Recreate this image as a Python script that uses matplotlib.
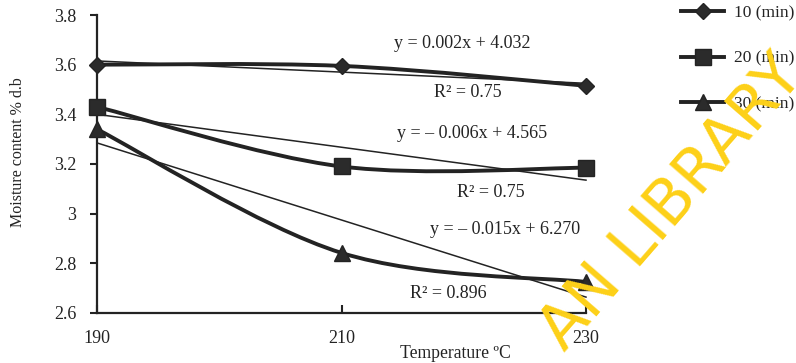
import matplotlib
matplotlib.use("Agg")
import matplotlib.pyplot as plt
from matplotlib.path import Path
from matplotlib.patches import PathPatch
from matplotlib.lines import Line2D

# DATOS
temperaturas = [190, 210, 230]
humedad_10 = [3.60, 3.595, 3.515]
humedad_20 = [3.43, 3.19, 3.185]
humedad_30 = [3.34, 2.842, 2.725]

# lineas de tendencia (valor en 190 y en 230)
tend_x = [190, 230]
tend_10 = [3.615, 3.525]
tend_20 = [3.40, 3.135]
tend_30 = [3.285, 2.664]

ecuaciones = ["y = 0.002x + 4.032", "y = \u2013 0.006x + 4.565", "y = \u2013 0.015x + 6.270"]
r2_textos = ["R\u00b2 = 0.75", "R\u00b2 = 0.75", "R\u00b2 = 0.896"]
etiquetas = ["10 (min)", "20 (min)", "30 (min)"]
yticks = [2.6, 2.8, 3.0, 3.2, 3.4, 3.6, 3.8]
ytick_labels = ["2.6", "2.8", "3", "3.2", "3.4", "3.6", "3.8"]
xticks = [190, 210, 230]

negro = "#232323"
plt.rcParams["font.family"] = ["Liberation Serif", "DejaVu Serif"]


def curva_suave(ax, xs, ys, lw):
    # curva suavizada tipo Excel (Bezier cubica tipo Catmull-Rom)
    pts = list(zip(xs, ys))
    verts = [pts[0]]
    codes = [Path.MOVETO]
    n = len(pts)
    for i in range(n - 1):
        p0 = pts[i - 1] if i > 0 else pts[i]
        p1 = pts[i]
        p2 = pts[i + 1]
        p3 = pts[i + 2] if i + 2 < n else pts[i + 1]
        c1 = (p1[0] + (p2[0] - p0[0]) / 6, p1[1] + (p2[1] - p0[1]) / 6)
        c2 = (p2[0] - (p3[0] - p1[0]) / 6, p2[1] - (p3[1] - p1[1]) / 6)
        verts += [c1, c2, p2]
        codes += [Path.CURVE4] * 3
    patch = PathPatch(Path(verts, codes), fc="none", ec=negro, lw=lw,
                      transform=ax.transData, clip_on=False, capstyle="round")
    ax.add_patch(patch)


fig = plt.figure(figsize=(7.96, 3.63), dpi=100)
ax = fig.add_axes([97 / 796, 1 - 313 / 363, (586 - 97) / 796, (313 - 15) / 363])

series = [(humedad_10, tend_10, "D", 8.5), (humedad_20, tend_20, "s", 12), (humedad_30, tend_30, "^", 12)]
for hum, tend, mk, ms in series:
    ax.plot(tend_x, tend, color=negro, lw=1.1, clip_on=False)
    curva_suave(ax, temperaturas, hum, 2.8)
    ax.plot(temperaturas, hum, ls="none", marker=mk, ms=ms, color="#2b2b2b",
            mec=negro, clip_on=False, zorder=5)

ax.set_xlim(190, 230)
ax.set_ylim(2.6, 3.8)
ax.set_xticks(xticks)
ax.set_yticks(yticks)
ax.set_yticklabels(ytick_labels)
for s in ["top", "right"]:
    ax.spines[s].set_visible(False)
for s in ["left", "bottom"]:
    ax.spines[s].set_linewidth(1.6)
    ax.spines[s].set_color(negro)
ax.tick_params(axis="y", direction="out", length=5, width=1.5, pad=10,
               labelsize=13, colors=negro)
ax.tick_params(axis="x", direction="in", length=6, width=1.5, pad=12,
               labelsize=13, colors=negro)

# textos de ecuaciones
pos_ec = [(219.86, 3.687), (220.67, 3.321), (223.37, 2.938)]
pos_r2 = [(220.35, 3.486), (222.23, 3.087), (218.71, 2.680)]
for t, (x, y) in zip(ecuaciones, pos_ec):
    ax.text(x, y, t, ha="center", va="center", fontsize=13, color=negro)
for t, (x, y) in zip(r2_textos, pos_r2):
    ax.text(x, y, t, ha="center", va="center", fontsize=13, color=negro)

fig.text(18 / 796, 1 - 152 / 363, "Moisture content % d.b", rotation=90,
         ha="center", va="center", fontsize=11.5, color=negro)
fig.text(455 / 796, 1 - 353 / 363, "Temperature \u00baC", ha="center",
         va="center", fontsize=12.7, color=negro)

# leyenda
handles = [Line2D([], [], color=negro, lw=2.8, marker=m, ms=s, mfc="#2b2b2b", mec=negro)
           for _, _, m, s in series]
fig.legend(handles, etiquetas, loc="upper left", bbox_to_anchor=(681 / 796, 1 - 5 / 363),
           frameon=False, fontsize=12.5, handlelength=2.5, handletextpad=0.55,
           labelspacing=1.7, borderpad=0, borderaxespad=0, labelcolor=negro)

# marca de agua
fig.text(672 / 796, 1 - 203 / 363, "AN LIBRARY", rotation=49, ha="center",
         va="center", fontsize=45, color="#fdd017", family="DejaVu Sans", zorder=10)

fig.savefig("out.png", dpi=100)
